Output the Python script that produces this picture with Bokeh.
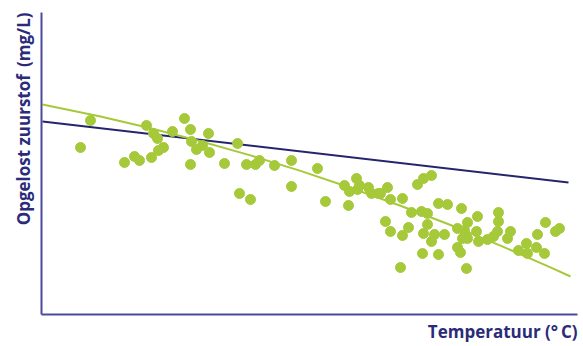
from bokeh.plotting import figure
from bokeh.models import Range1d, Title, FixedTicker
from bokeh.embed import file_html
from bokeh.resources import INLINE

# Measured values (arbitrary units, no ticks in the original)
temperature = [39, 49, 83, 93, 98, 105, 110, 112, 116, 117, 122, 131, 143, 149, 150, 155,
               161, 167, 168, 149, 183, 196, 205, 214, 218, 233, 198, 209, 250, 276, 250,
               284, 303, 315, 308, 316, 318, 327, 330, 337, 307, 346, 349, 361, 376, 382,
               390, 370, 380, 386, 397, 406, 420, 436, 426, 416, 423, 421, 426, 435, 437,
               344, 349, 361, 367, 382, 386, 393, 390, 403, 416, 419, 381, 397, 359, 425,
               457, 457, 446, 452, 456, 469, 466, 504, 496, 514, 518, 477, 485, 486, 495,
               503, 339]
oxygen = [167, 194, 152, 158, 154, 189, 157, 181, 176, 164, 167, 183, 196, 185, 173, 165,
          169, 181, 162, 150, 151, 171, 150, 150, 154, 149, 121, 115, 154, 146, 128,
          113, 129, 136, 123, 125, 129, 127, 121, 121, 109, 127, 115, 116, 130, 136,
          139, 102, 103, 101, 111, 110, 106, 98, 92, 86, 84, 76, 76, 83, 73,
          93, 83, 79, 87, 81, 90, 80, 73, 80, 67, 62, 61, 60, 47, 46,
          102, 93, 75, 78, 83, 83, 76, 92, 80, 83, 86, 64, 71, 61, 67,
          61, 121]

# Straight (linear) trend line
linear_x = [1, 527]
linear_y = [193, 132]

# Curved trend line
curve_x = [1, 59, 109, 159, 209, 259, 309, 359, 409, 459, 509, 529]
curve_y = [210, 198, 186.3, 173.3, 159.1, 143.6, 126.8, 108.7, 89.5, 68.9, 47.1, 38]

x_label = "Temperatuur (°\u2009C)"
y_label = "Opgelost zuurstof\u2009 (mg/L)"

GREEN = "#a6c93a"
NAVY = "#24246f"
AXIS = "#4b4b9b"
TEXT = "#2b2b7a"

p = figure(width=583, height=346, output_backend="svg", toolbar_location=None,
           x_range=Range1d(0, 536), y_range=Range1d(0, 302),
           min_border_left=41, min_border_right=6, min_border_top=12, min_border_bottom=32)
p.outline_line_color = None
p.grid.visible = False
p.background_fill_color = "white"
p.border_fill_color = "white"

for ax in (p.xaxis, p.yaxis):
    ax.ticker = FixedTicker(ticks=[])
    ax.major_tick_line_color = None
    ax.minor_tick_line_color = None
    ax.major_label_text_font_size = "0pt"
    ax.axis_line_color = AXIS
    ax.axis_line_width = 2

p.line(linear_x, linear_y, line_color=NAVY, line_width=2)
p.line(curve_x, curve_y, line_color=GREEN, line_width=2)
p.scatter(temperature, oxygen, size=10, fill_color=GREEN, line_color=GREEN)

p.add_layout(Title(text=x_label, align="right", text_font="Open Sans", text_font_style="bold",
                   text_font_size="17px", text_color=TEXT, standoff=7), "below")
p.add_layout(Title(text=y_label, align="right", text_font="Open Sans", text_font_style="bold",
                   text_font_size="17px", text_color=TEXT, standoff=14), "left")

open("out.html", "w").write(file_html(p, INLINE))
